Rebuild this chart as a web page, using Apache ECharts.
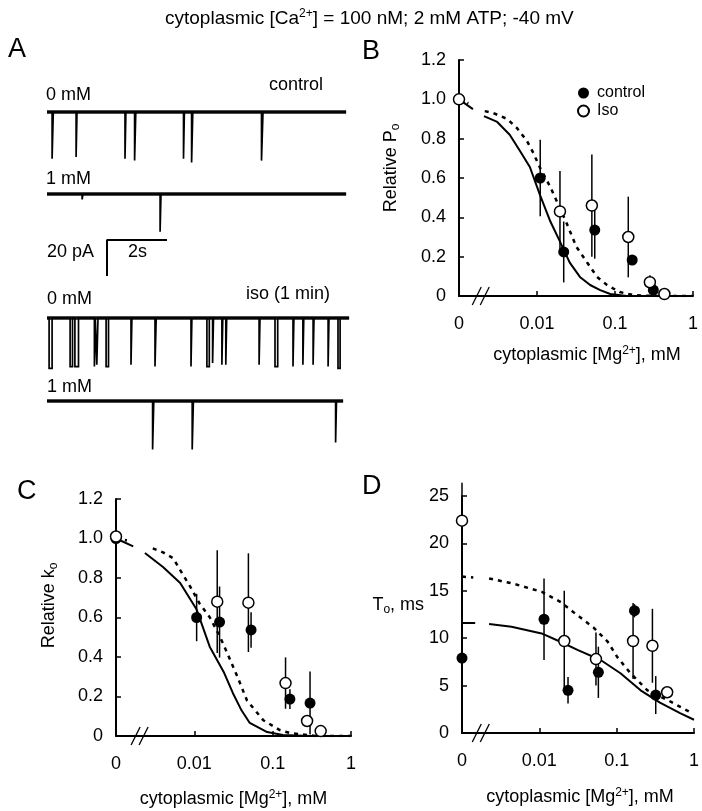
<!DOCTYPE html>
<html><head><meta charset="utf-8">
<script src="https://cdn.jsdelivr.net/npm/echarts@6/dist/echarts.min.js"></script>
<style>html,body{margin:0;padding:0;background:#fff}#c{width:702px;height:811px}</style>
</head><body><div id="c"></div>
<script>
// ---------------- DATA ----------------
// Panel A: single-channel current traces (time in s, events: [start s, duration s, amplitude pA])
const traceControl0 = {end: 9.97, events: [[0.17,0.04,26],[0.97,0.03,25],[2.6,0.03,26],[2.92,0.04,27],[4.55,0.03,26],[4.82,0.04,28],[7.15,0.05,27]]};
const traceControl1 = {end: 9.97, events: [[1.17,0.03,3],[3.77,0.03,21]]};
const traceIso0 = {end: 10.07, events: [[0.07,0.1,28],[0.77,0.08,27],[0.93,0.12,27],[1.58,0.03,27],[1.66,0.04,26],[1.97,0.08,27],[2.8,0.03,26],[3.6,0.04,27],[4.8,0.03,27],[5.33,0.08,27],[5.52,0.03,25],[5.83,0.03,26],[5.96,0.03,26],[7.07,0.03,26],[7.6,0.09,27],[8.2,0.03,27],[8.53,0.03,26],[8.87,0.03,26],[9.37,0.03,27],[9.7,0.07,28]]};
const traceIso1 = {end: 9.87, events: [[3.52,0.04,27],[4.84,0.04,27],[9.62,0.03,23]]};
const scaleBarTime = 2;      // s
const scaleBarCurrent = 20;  // pA

// Concentration axis (mM); "0" is drawn at 0.001
const ZERO_AT = 0.001;
const xTickLabels = {0.001: '0', 0.01: '0.01', 0.1: '0.1', 1: '1'};

// Panel B: relative Po
const bControlX = [0, 0.011, 0.022, 0.055, 0.166, 0.31];
const bControlY = [1.0, 0.60, 0.224, 0.335, 0.183, 0.03];
const bControlErr = [0, 0.195, 0.155, 0.145, 0, 0];
const bIsoX = [0, 0.0197, 0.0505, 0.148, 0.28, 0.43];
const bIsoY = [1.0, 0.43, 0.46, 0.30, 0.07, 0.01];
const bIsoErr = [0, 0.205, 0.26, 0.205, 0.035, 0];
const bFitControl = [[0.001,1.0],[0.00151,0.95],null,[0.00209,0.915],[0.00309,0.885],[0.00447,0.82],[0.006,0.74],[0.0081,0.656],[0.011,0.51],[0.0148,0.38],[0.0195,0.28],[0.0263,0.17],[0.0355,0.097],[0.048,0.056],[0.0646,0.03],[0.087,0.01],[0.141,0.0],[1,0]];
const bFitIso = [[0.001,1.0],[0.00132,0.98],null,[0.00214,0.94],[0.00275,0.93],[0.00417,0.90],[0.0055,0.855],[0.0074,0.79],[0.0089,0.73],[0.011,0.65],[0.0148,0.555],[0.0195,0.45],[0.024,0.37],[0.032,0.25],[0.044,0.17],[0.059,0.097],[0.079,0.056],[0.115,0.02],[0.17,0.005],[0.316,0],[1,0]];
const bBreak = 0.0019;

// Panel C: relative ko
const cControlX = [0, 0.0107, 0.021, 0.053, 0.166, 0.30];
const cControlY = [1.0, 0.60, 0.577, 0.537, 0.187, 0.167];
const cControlErr = [0, 0.12, 0.18, 0.09, 0.05, 0.16];
const cIsoX = [0, 0.0196, 0.049, 0.146, 0.275, 0.41];
const cIsoY = [1.01, 0.68, 0.675, 0.268, 0.076, 0.025];
const cIsoErr = [0, 0.26, 0.25, 0.13, 0.03, 0];
const cFitControl = [[0.001,1.0],[0.00166,0.96],null,[0.00234,0.927],[0.00398,0.856],[0.0066,0.775],[0.0107,0.64],[0.0158,0.45],[0.0174,0.42],[0.024,0.32],[0.031,0.218],[0.04,0.13],[0.051,0.066],[0.085,0.02],[0.135,0.005],[0.3,0],[1,0]];
const cFitIso = [[0.001,1.0],[0.00138,0.99],null,[0.00295,0.95],[0.00398,0.93],[0.00537,0.90],[0.0066,0.84],[0.0089,0.755],[0.0117,0.67],[0.0158,0.60],[0.0214,0.50],[0.0263,0.42],[0.0355,0.30],[0.047,0.18],[0.076,0.08],[0.123,0.03],[0.166,0.015],[0.35,0],[1,0]];
const cBreak = 0.002;

// Panel D: To (ms)
const dControlX = [0, 0.0115, 0.0235, 0.058, 0.17, 0.32];
const dControlY = [7.9, 12.0, 4.5, 6.4, 12.9, 4.0];
const dControlErr = [2.0, 4.3, 1.4, 2.7, 0.7, 2.0];
const dIsoX = [0, 0.021, 0.054, 0.163, 0.29, 0.45];
const dIsoY = [22.4, 9.7, 7.8, 9.7, 9.2, 4.3];
const dIsoErr = [4.0, 5.3, 2.8, 4.0, 3.9, 0];
const dFitControl = [[0.001,11.6],[0.00148,11.6],null,[0.00224,11.5],[0.00437,11.2],[0.0107,10.5],[0.019,9.6],[0.0316,8.75],[0.062,7.7],[0.112,6.3],[0.204,4.5],[0.363,3.2],[0.66,2.1],[1,1.4]];
const dFitIso = [[0.001,16.5],[0.0014,16.4],null,[0.00224,16.3],[0.00437,15.8],[0.0107,14.9],[0.019,13.8],[0.028,12.7],[0.0507,11.1],[0.077,9.6],[0.102,8.0],[0.151,6.3],[0.25,4.5],[0.45,3.5],[0.89,2.2]];
const dBreak = 0.00175;

// ---------------- BUILD ----------------
const FONT = '"Liberation Sans", Arial, sans-serif';
const FS = 18;
const BLACK = '#000';
const chart = echarts.init(document.getElementById('c'), null, {renderer: 'canvas'});

function buildTrace(tr) {
  const p = [[0, 0]];
  tr.events.forEach(([t, d, a]) => { p.push([t, 0], [t, -a], [t + d, -a], [t + d, 0]); });
  p.push([tr.end, 0]);
  return p;
}
const pos = x => (x === 0 ? ZERO_AT : x);
const pts = (xs, ys) => xs.map((x, i) => [pos(x), ys[i]]);
const errPts = (xs, ys, es) => xs.map((x, i) => [pos(x), ys[i], es[i]]);
const curve = (arr, brk) => arr.map(p => (p === null ? [brk, '-'] : p));

const rich = {
  sup: {fontSize: 12, fontFamily: FONT, color: BLACK, padding: [0, 0, 9, 0]},
  sub: {fontSize: 12, fontFamily: FONT, color: BLACK, padding: [9, 0, 0, 0]},
  n: {fontSize: FS, fontFamily: FONT, color: BLACK}
};

// Panel A grids: 30 px per s, 1.8 px per pA
const traceTops = [103, 185, 309, 392];
const grids = [];
const xAxes = [];
const yAxes = [];
const hiddenAxis = {show: false};
traceTops.forEach(top => { grids.push({left: 47, top: top, width: 303, height: 63}); });
grids.push({left: 47, top: 240, width: 303, height: 36}); // scale bar grid
for (let i = 0; i < 4; i++) {
  xAxes.push(Object.assign({gridIndex: i, type: 'value', min: 0, max: 10.1}, hiddenAxis));
  yAxes.push(Object.assign({gridIndex: i, type: 'value', min: -30, max: 5}, hiddenAxis));
}
xAxes.push(Object.assign({gridIndex: 4, type: 'value', min: 0, max: 10.1}, hiddenAxis));
yAxes.push(Object.assign({gridIndex: 4, type: 'value', min: -scaleBarCurrent, max: 0}, hiddenAxis));

// Panels B, C, D
grids.push({left: 459, top: 60, width: 234, height: 236});
grids.push({left: 116, top: 499, width: 235, height: 237});
grids.push({left: 462, top: 496, width: 232, height: 237});

const mgName = '{n|cytoplasmic [Mg}{sup|2+}{n|], mM}';
function xAxisFor(g, gap, pad) {
  return {
    gridIndex: g, type: 'log', logBase: 10, min: 0.001, max: 1,
    axisLine: {show: true, lineStyle: {color: BLACK, width: 2}},
    axisTick: {show: true, inside: true, length: 5, lineStyle: {color: BLACK, width: 1.5}},
    axisLabel: {color: BLACK, fontSize: FS, fontFamily: FONT, margin: 19,
      formatter: v => { for (const k in xTickLabels) { if (Math.abs(Math.log10(v) - Math.log10(+k)) < 1e-6) return xTickLabels[k]; } return ''; }},
    splitLine: {show: false}, minorTick: {show: false},
    name: mgName, nameLocation: 'middle', nameGap: gap,
    nameTextStyle: {rich: rich, padding: pad}
  };
}
function yAxisFor(g, max, interval, fmt, name, gap, rotate, pad) {
  return {
    gridIndex: g, type: 'value', min: 0, max: max, interval: interval,
    axisLine: {show: true, onZero: false, lineStyle: {color: BLACK, width: 2}},
    axisTick: {show: true, inside: true, length: 5, lineStyle: {color: BLACK, width: 1.5}},
    axisLabel: {color: BLACK, fontSize: FS, fontFamily: FONT, margin: 13, formatter: fmt},
    splitLine: {show: false},
    name: name, nameLocation: 'middle', nameGap: gap, nameRotate: rotate,
    nameTextStyle: {rich: rich, padding: pad}
  };
}
const fmt1 = v => (v === 0 ? '0' : v.toFixed(1));
xAxes.push(xAxisFor(5, 49, [0, 0, 0, 22]));
yAxes.push(yAxisFor(5, 1.2, 0.2, fmt1, '{n|Relative P}{sub|o}', 57, 90, [0, 0, 0, 20]));
xAxes.push(xAxisFor(6, 53, [0, 0, 0, 0]));
yAxes.push(yAxisFor(6, 1.2, 0.2, fmt1, '{n|Relative k}{sub|o}', 56, 90, [0, 0, 0, 24]));
xAxes.push(xAxisFor(7, 54, [0, 0, 0, 4]));
yAxes.push(yAxisFor(7, 25, 5, v => String(v), '{n|T}{sub|o}{n|, ms}', 36, 0, [0, 0, 18, 0]));

function errRender(params, api) {
  const x = api.value(0), y = api.value(1), e = api.value(2);
  if (!e) return null;
  const p1 = api.coord([x, y - e]), p2 = api.coord([x, y + e]);
  return {type: 'line', shape: {x1: p1[0], y1: p1[1], x2: p2[0], y2: p2[1]}, style: {stroke: BLACK, lineWidth: 1.5}};
}
function breakRender(params, api) {
  const c = api.coord([api.value(0), api.value(1)]);
  return {type: 'group', children: [-4, 4].map(dx => ({
    type: 'line', shape: {x1: c[0] + dx - 4.5, y1: c[1] + 9, x2: c[0] + dx + 4.5, y2: c[1] - 9},
    style: {stroke: BLACK, lineWidth: 1.3}
  }))};
}

const series = [];
[traceControl0, traceControl1, traceIso0, traceIso1].forEach((tr, i) => {
  // noisy baseline band
  series.push({type: 'line', xAxisIndex: i, yAxisIndex: i, data: [[0, 0], [tr.end, 0]], symbol: 'none',
    lineStyle: {color: '#111', width: 3.5}, silent: true, animation: false});
  series.push({type: 'line', xAxisIndex: i, yAxisIndex: i, data: buildTrace(tr), symbol: 'none',
    lineStyle: {color: '#000', width: 1.7, join: 'miter'}, silent: true, animation: false});
});
series.push({type: 'line', xAxisIndex: 4, yAxisIndex: 4, symbol: 'none', silent: true, animation: false,
  data: [[scaleBarTime, -scaleBarCurrent], [scaleBarTime, 0], [scaleBarTime * 2, 0]],
  lineStyle: {color: BLACK, width: 2}});

function panelSeries(ax, fitC, fitI, brk, cx, cy, ce, ix, iy, ie, cName, iName) {
  series.push({type: 'line', xAxisIndex: ax, yAxisIndex: ax, data: curve(fitC, brk), symbol: 'none', silent: true,
    animation: false, connectNulls: false, lineStyle: {color: BLACK, width: 2}, z: 2});
  series.push({type: 'line', xAxisIndex: ax, yAxisIndex: ax, data: curve(fitI, brk), symbol: 'none', silent: true,
    animation: false, connectNulls: false, lineStyle: {color: BLACK, width: 2.5, type: [4, 5]}, z: 2});
  series.push({type: 'custom', xAxisIndex: ax, yAxisIndex: ax, renderItem: breakRender, data: [[brk, 0]],
    encode: {x: 0, y: 1}, silent: true, animation: false, z: 3});
  series.push({type: 'custom', xAxisIndex: ax, yAxisIndex: ax, renderItem: errRender,
    data: errPts(cx, cy, ce), encode: {x: 0, y: 1}, silent: true, animation: false, z: 3});
  series.push({type: 'custom', xAxisIndex: ax, yAxisIndex: ax, renderItem: errRender,
    data: errPts(ix, iy, ie), encode: {x: 0, y: 1}, silent: true, animation: false, z: 3});
  series.push({type: 'scatter', name: cName, xAxisIndex: ax, yAxisIndex: ax, data: pts(cx, cy), symbol: 'circle',
    symbolSize: 11, itemStyle: {color: BLACK, opacity: 1}, silent: true, animation: false, z: 4});
  series.push({type: 'scatter', name: iName, xAxisIndex: ax, yAxisIndex: ax, data: pts(ix, iy), symbol: 'circle',
    symbolSize: 11, itemStyle: {color: '#fff', borderColor: BLACK, borderWidth: 1.5, opacity: 1}, silent: true, animation: false, z: 5});
}
panelSeries(5, bFitControl, bFitIso, bBreak, bControlX, bControlY, bControlErr, bIsoX, bIsoY, bIsoErr, 'control', 'Iso');
panelSeries(6, cFitControl, cFitIso, cBreak, cControlX, cControlY, cControlErr, cIsoX, cIsoY, cIsoErr, 'control C', 'Iso C');
panelSeries(7, dFitControl, dFitIso, dBreak, dControlX, dControlY, dControlErr, dIsoX, dIsoY, dIsoErr, 'control D', 'Iso D');

function txt(text, x, y, size) {
  return {type: 'text', left: x, top: y - size * 0.58, silent: true,
    style: {text: text, fontSize: size, fontFamily: FONT, fill: BLACK}};
}

chart.setOption({
  backgroundColor: '#fff',
  animation: false,
  title: {
    text: '{t|cytoplasmic [Ca}{sup|2+}{t|] = 100 nM; 2 mM ATP; -40 mV}',
    left: 160, top: 3,
    textStyle: {fontSize: 19, fontWeight: 'normal', color: BLACK, fontFamily: FONT,
      rich: Object.assign({t: {fontSize: 19, fontFamily: FONT, color: BLACK}}, rich)}
  },
  legend: {
    data: ['control', 'Iso'], orient: 'vertical', left: 572, top: 80, itemWidth: 11, itemHeight: 11, itemGap: 2,
    icon: 'circle', selectedMode: false,
    textStyle: {fontSize: 16, color: BLACK, fontFamily: FONT, padding: [0, 0, 0, 3]}
  },
  grid: grids,
  xAxis: xAxes,
  yAxis: yAxes,
  series: series,
  graphic: [
    txt('A', 8, 52, 27),
    txt('B', 362, 54, 27),
    txt('C', 17, 494, 27),
    txt('D', 362, 489, 27),
    txt('0 mM', 46, 96, FS),
    txt('control', 269, 86, FS),
    txt('1 mM', 46, 180, FS),
    txt('20 pA', 47, 253, FS),
    txt('2s', 128, 253, FS),
    txt('0 mM', 47, 300, FS),
    txt('iso (1 min)', 246, 295, FS),
    txt('1 mM', 47, 388, FS)
  ]
});
</script></body></html>
